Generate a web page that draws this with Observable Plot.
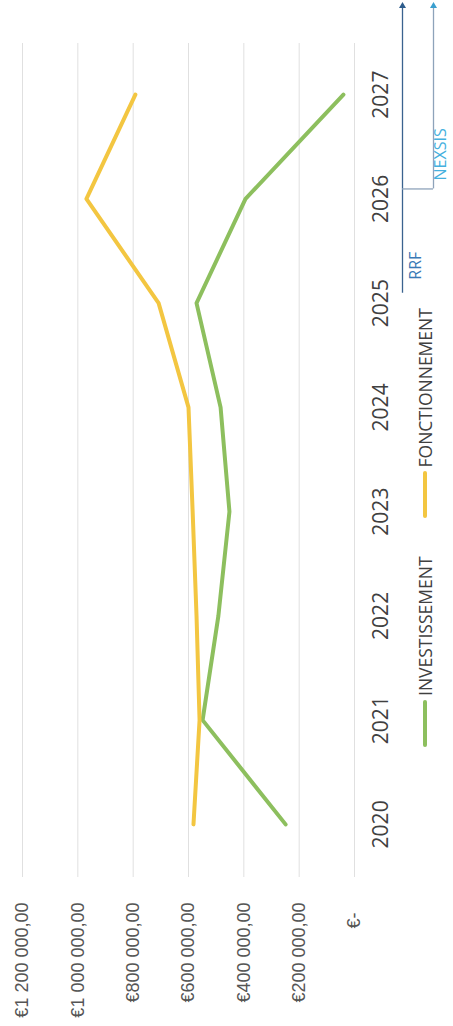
<!DOCTYPE html>
<html>
<head>
<meta charset="utf-8">
<script src="https://cdn.jsdelivr.net/npm/d3@7"></script>
<script src="https://cdn.jsdelivr.net/npm/@observablehq/plot@0.6"></script>
<style>
  html, body { margin: 0; padding: 0; background: #fff; }
  #wrap { position: relative; width: 453px; height: 1026px; overflow: hidden; background: #fff; }
  #inner { position: absolute; left: 0; top: 0; width: 1026px; height: 453px;
           transform-origin: 0 0; transform: translate(0, 1026px) rotate(-90deg); }
  #legend { position: absolute; left: 279px; top: 425px; transform: translateY(-50%);
            display: flex; align-items: center; font-family: "Open Sans", sans-serif;
            font-size: 17.5px; color: #404040; white-space: nowrap; }
  #legend .item { display: flex; align-items: center; margin-right: 38px; }
  #legend .sw { width: 47px; height: 4px; border-radius: 2px; margin-right: 4px; }
</style>
</head>
<body>
<div id="wrap"><div id="inner"><div id="legend"></div></div></div>
<script>
// ---- data ----
const years = [2020, 2021, 2022, 2023, 2024, 2025, 2026, 2027];
const investissement = [249000, 549000, 492000, 452000, 484000, 571000, 394000, 40000];
const fonctionnement = [582000, 560000, 571000, 585000, 600000, 708000, 969000, 792000];
const seriesNames = ["INVESTISSEMENT", "FONCTIONNEMENT"];
const seriesColors = ["#8dbf5e", "#f3c641"];
const yTicks = [0, 200000, 400000, 600000, 800000, 1000000, 1200000];
// periods annotated below the axis (start year, end of arrow)
const periodLabels = ["RRF", "NEXSIS"];
const periodStarts = [2025.1, 2026.1];
const periodEnds = [2027.85, 2027.85];

const rows = [];
years.forEach((yr, i) => {
  rows.push({year: yr, value: investissement[i], serie: seriesNames[0]});
  rows.push({year: yr, value: fonctionnement[i], serie: seriesNames[1]});
});
const periods = periodLabels.map((l, i) => ({label: l, start: periodStarts[i], end: periodEnds[i]}));

const loc = d3.formatLocale({decimal: ",", thousands: " ", grouping: [3], currency: ["€", ""]});
const num = loc.format(",.2f");
const fmt = v => v === 0 ? "€-\u00a0\u00a0" : "€" + num(v);

const laneColors = ["#3b638f", "#8ea3ba"];
const headColors = ["#2d5c8c", "#3a9fcf"];
const labelColors = ["#3a79b6", "#45b0de"];
const laneDy = [48, 79];
const labelDy = [61, 86];
const labelDx = [13, 8];

const marks = [
  Plot.gridY(yTicks, {stroke: "#e0e0e0", strokeOpacity: 1}),
  Plot.axisY(yTicks, {tickSize: 0, tickPadding: 26, tickFormat: fmt, fontSize: 18,
    fontFamily: "Liberation Sans, Arial, sans-serif", fill: "#555", label: null}),
  Plot.axisX(years, {tickSize: 0, tickPadding: 19, tickFormat: d => String(d), fontSize: 21,
    fontFamily: "Open Sans, sans-serif", fill: "#404040", label: null}),
  Plot.line(rows, {x: "year", y: "value", z: "serie",
    stroke: d => seriesColors[seriesNames.indexOf(d.serie)], strokeWidth: 4})
];
periods.forEach((p, i) => {
  marks.push(Plot.link([p], {x1: "start", x2: "end", y1: () => 0, y2: () => 0, dy: laneDy[i],
    stroke: laneColors[i], strokeWidth: 1.3}));
  marks.push(Plot.dot([p], {x: "end", y: () => 0, dy: laneDy[i], symbol: "triangle", r: 2.6,
    rotate: 90, fill: headColors[i], stroke: "none"}));
  marks.push(Plot.text([p], {x: "start", y: () => 0, text: "label", dy: labelDy[i],
    dx: labelDx[i], textAnchor: "start", fontSize: 16, fill: labelColors[i],
    fontFamily: "Open Sans, sans-serif"}));
});

const chart = Plot.plot({
  width: 1026, height: 453,
  marginLeft: 149, marginRight: 43, marginTop: 22, marginBottom: 99,
  style: {background: "transparent", overflow: "visible", fontFamily: "Open Sans, sans-serif"},
  x: {domain: [2019.5, 2027.5]},
  y: {domain: [0, 1200000]},
  marks
});

// connector between RRF lane and NEXSIS lane, through the chart's own scales
const xs = chart.scale("x"), ys = chart.scale("y");
const cx = xs.apply(periods[1].start), y0 = ys.apply(0);
d3.select(chart).append("line")
  .attr("x1", cx).attr("x2", cx)
  .attr("y1", y0 + laneDy[0]).attr("y2", y0 + laneDy[1])
  .attr("stroke", laneColors[1]).attr("stroke-width", 1.3);

document.getElementById("inner").prepend(chart);

const legend = document.getElementById("legend");
seriesNames.forEach((n, i) => {
  const it = document.createElement("div"); it.className = "item";
  const sw = document.createElement("span"); sw.className = "sw"; sw.style.background = seriesColors[i];
  const tx = document.createElement("span"); tx.textContent = n;
  it.append(sw, tx); legend.append(it);
});
</script>
</body>
</html>
